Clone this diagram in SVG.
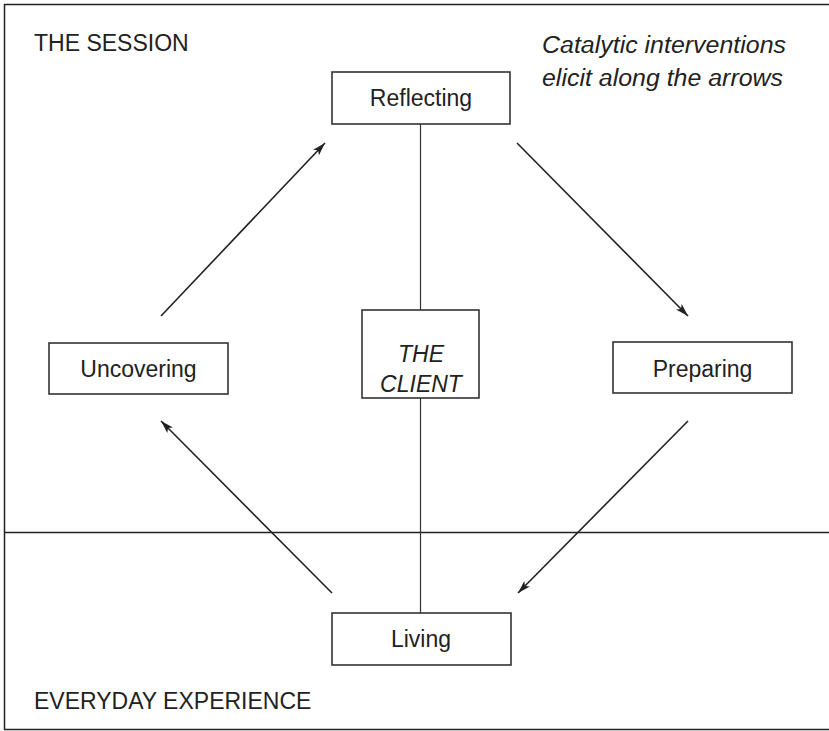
<svg xmlns="http://www.w3.org/2000/svg" width="829" height="731" viewBox="0 0 829 731">
<style>
.frame{stroke:#222;stroke-width:1.5;fill:none}
.box{fill:#fff;stroke:#333;stroke-width:1.6}
.lbl{font-family:"Liberation Sans",Arial,Helvetica,sans-serif;font-size:23px;fill:#222}
.it{font-style:italic}
.arr{stroke:#222;stroke-width:1.6;fill:none;marker-end:url(#ah)}
.stem{stroke:#333;stroke-width:1.2;fill:none}
</style>
<defs>
<marker id="ah" markerUnits="userSpaceOnUse" markerWidth="14" markerHeight="10" refX="13" refY="4" orient="auto">
<path d="M0,0 L13,4 L0,8 L3,4 z" fill="#222"/>
</marker>
</defs>
<rect width="829" height="731" fill="#fff"/>
<g id="frame">
<path class="frame" d="M829,4.5 H4.5 V729.5 H829"/>
<line class="frame" x1="4.5" y1="532.5" x2="829" y2="532.5"/>
<text class="lbl" x="34" y="51">THE SESSION</text>
<text class="lbl" x="34" y="709">EVERYDAY EXPERIENCE</text>
<text class="lbl it" x="542" y="53" textLength="244" lengthAdjust="spacingAndGlyphs">Catalytic interventions</text>
<text class="lbl it" x="542" y="86" textLength="241" lengthAdjust="spacingAndGlyphs">elicit along the arrows</text>
</g>
<g id="connectors">
<line class="stem" x1="420.5" y1="124" x2="420.5" y2="310"/>
<line class="stem" x1="420.5" y1="398" x2="420.5" y2="613"/>
<line class="arr" x1="161" y1="316" x2="325" y2="143"/>
<line class="arr" x1="517" y1="143" x2="688" y2="316"/>
<line class="arr" x1="688" y1="421" x2="518" y2="593"/>
<line class="arr" x1="332" y1="593" x2="161" y2="421"/>
</g>
<g id="reflecting">
<rect class="box" x="332" y="72" width="178" height="52"/>
<text class="lbl" x="421" y="106" text-anchor="middle">Reflecting</text>
</g>
<g id="client">
<rect class="box" x="362" y="310" width="117" height="88"/>
<text class="lbl it" x="421" y="362" text-anchor="middle">THE</text>
<text class="lbl it" x="421" y="392" text-anchor="middle">CLIENT</text>
</g>
<g id="uncovering">
<rect class="box" x="49" y="343" width="179" height="51"/>
<text class="lbl" x="138.5" y="377" text-anchor="middle">Uncovering</text>
</g>
<g id="preparing">
<rect class="box" x="613" y="342" width="179" height="51"/>
<text class="lbl" x="702.5" y="377" text-anchor="middle">Preparing</text>
</g>
<g id="living">
<rect class="box" x="332" y="613" width="179" height="52"/>
<text class="lbl" x="421" y="647" text-anchor="middle">Living</text>
</g>
</svg>
